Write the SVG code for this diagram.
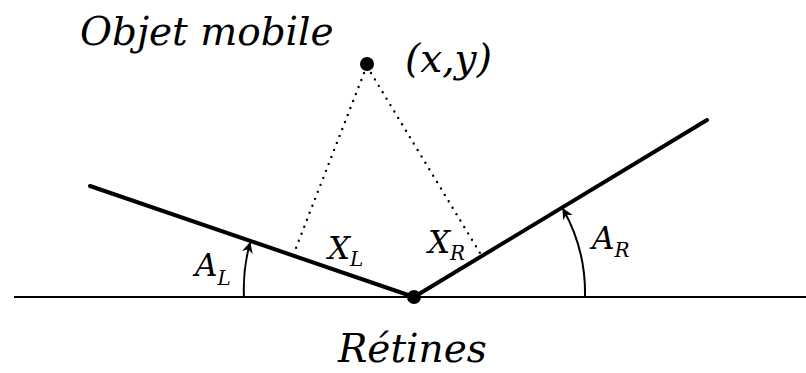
<svg xmlns="http://www.w3.org/2000/svg" width="806" height="373" viewBox="0 0 806 373">
<style>
text{font-family:"DejaVu Serif","Liberation Serif",serif;font-style:italic;fill:#000}
.big{font-size:39px}
.lab{font-size:31px}
.sub{font-size:20px}
.thick{stroke:#000;stroke-width:4;fill:none;stroke-linecap:round}
.thin{stroke:#000;stroke-width:2;fill:none}
.dot{stroke:#000;stroke-width:2.4;fill:none;stroke-dasharray:0 7.5;stroke-linecap:round}
</style>
<defs>
<marker id="ah" viewBox="0 0 10 10" refX="9" refY="5" markerWidth="11" markerHeight="11" markerUnits="userSpaceOnUse" orient="auto">
<path d="M0,0 L10,5 L0,10 L3,5 Z" fill="#000"/>
</marker>
</defs>
<g id="connectors">
<line class="thin" x1="14" y1="297" x2="806" y2="297"/>
<line class="thick" x1="90" y1="186" x2="414" y2="297"/>
<line class="thick" x1="414" y1="297" x2="707" y2="120"/>
<line class="dot" x1="364" y1="73" x2="296" y2="248"/>
<line class="dot" x1="371" y1="73" x2="480" y2="253"/>
<path class="thin" d="M244,297 A170,170 0 0 1 250,243" marker-end="url(#ah)"/>
<path class="thin" d="M585,297 A171,171 0 0 0 563,209" marker-end="url(#ah)"/>
</g>
<g id="object">
<circle cx="367" cy="64" r="7" fill="#000"/>
<text class="big" x="80" y="45">Objet mobile</text>
<text class="big" x="405" y="72">(x,y)</text>
</g>
<g id="retines">
<circle cx="414" cy="297" r="7" fill="#000"/>
<text class="big" x="338" y="362">Rétines</text>
</g>
<g id="labels">
<text class="lab" x="195" y="276">A<tspan class="sub" dy="9">L</tspan></text>
<text class="lab" x="328" y="259">X<tspan class="sub" dy="7">L</tspan></text>
<text class="lab" x="428" y="253">X<tspan class="sub" dy="7">R</tspan></text>
<text class="lab" x="592" y="249">A<tspan class="sub" dy="8">R</tspan></text>
</g>
</svg>
